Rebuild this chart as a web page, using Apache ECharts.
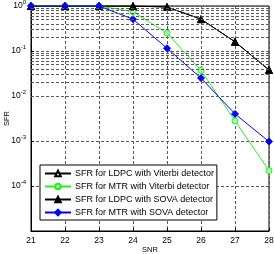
<!DOCTYPE html>
<html>
<head>
<meta charset="utf-8">
<script src="https://cdn.jsdelivr.net/npm/echarts@6/dist/echarts.min.js"></script>
<style>
  html, body { margin: 0; padding: 0; background: #fff; }
  #chart { width: 274px; height: 254px; }
</style>
</head>
<body>
<div id="chart"></div>
<script>
// SNR values on the x axis
const snr = [21, 22, 23, 24, 25, 26, 27, 28]

// sector failure rate
const ldpcViterbi = [1, 1, 1, 1, 0.95, 0.51, 0.16, 0.038]
const mtrViterbi = [1, 1, 1, 0.75, 0.25, 0.037, 0.0028, 0.00022]
const ldpcSova = [1, 1, 1, 1, 0.95, 0.51, 0.16, 0.038]
const mtrSova = [1, 1, 1, 0.51, 0.115, 0.025, 0.004, 0.00097]

// minor grid lines (2..9 in every decade)
const minorGrid = []
for (let d = 1; d <= 5; d++) {
  for (let k = 2; k <= 9; k++) minorGrid.push(k * Math.pow(10, -d))
}

const font = 'Liberation Sans, Arial, sans-serif'
const gridLine = { color: '#5a5a5a', width: 1, type: [3, 2] }

const chart = echarts.init(document.getElementById('chart'), null, { renderer: 'canvas' })

const pair = (ys) => snr.map((x, i) => [x, ys[i]])

const option = {
  animation: false,
  backgroundColor: '#fff',
  textStyle: { fontFamily: font },
  grid: {
    left: 31, right: 5, top: 6, bottom: 23,
    outerBoundsMode: 'none',
    containLabel: false,
    show: true, borderColor: '#000', borderWidth: 1, backgroundColor: 'transparent'
  },
  legend: {
    left: 40,
    top: 165,
    orient: 'vertical',
    backgroundColor: '#fff',
    borderColor: '#000',
    borderWidth: 1,
    borderRadius: 0,
    padding: [4, 3, 3, 4],
    itemWidth: 26,
    itemHeight: 7,
    itemGap: 4,
    textStyle: { fontSize: 9, color: '#000', fontFamily: font, padding: [0, 0, 0, -1] },
    data: [
      'SFR for LDPC with Viterbi detector',
      'SFR for MTR with Viterbi detector',
      'SFR for LDPC with SOVA detector',
      'SFR for MTR with SOVA detector'
    ]
  },
  xAxis: {
    type: 'value',
    min: 21,
    max: 28,
    interval: 1,
    name: 'SNR',
    nameLocation: 'middle',
    nameGap: 15,
    nameMoveOverlap: false,
    nameTextStyle: { fontSize: 7.5, color: '#000', verticalAlign: 'top' },
    axisLine: { show: true, onZero: false, lineStyle: { color: '#000', width: 1 } },
    axisTick: { show: true, inside: true, length: 3, lineStyle: { color: '#000' } },
    axisLabel: { fontSize: 8.5, color: '#000', margin: 5 },
    splitLine: { show: true, lineStyle: gridLine }
  },
  yAxis: {
    type: 'log',
    logBase: 10,
    min: 1e-5,
    max: 1,
    name: 'SFR',
    nameLocation: 'middle',
    nameGap: 20,
    nameMoveOverlap: false,
    nameTextStyle: { fontSize: 7.5, color: '#000' },
    axisLine: { show: true, lineStyle: { color: '#000', width: 1 } },
    axisTick: { show: true, inside: true, length: 3, lineStyle: { color: '#000' } },
    axisLabel: {
      showMinLabel: false,
      margin: 5,
      formatter: (v) => '{b|10}{s|' + Math.round(Math.log10(v)) + '}',
      rich: {
        b: { fontSize: 8.5, color: '#000', fontFamily: font },
        s: { fontSize: 6, color: '#000', fontFamily: font, verticalAlign: 'top', padding: [0, 0, 7, 0] }
      }
    },
    splitLine: { show: true, lineStyle: gridLine }
  },
  series: [
    {
      name: 'minor-grid',
      type: 'line',
      data: [],
      silent: true,
      markLine: {
        silent: true,
        symbol: 'none',
        label: { show: false },
        lineStyle: gridLine,
        data: minorGrid.map(v => ({ yAxis: v }))
      }
    },
    {
      name: 'SFR for LDPC with Viterbi detector',
      type: 'line',
      data: pair(ldpcViterbi),
      symbol: 'triangle',
      symbolSize: 7,
      lineStyle: { color: '#000', width: 1 },
      itemStyle: { color: '#fff', borderColor: '#000', borderWidth: 1 }
    },
    {
      name: 'SFR for MTR with Viterbi detector',
      type: 'line',
      data: pair(mtrViterbi),
      symbol: 'circle',
      symbolSize: 6,
      lineStyle: { color: '#22ee22', width: 1 },
      itemStyle: { color: '#aaffaa', borderColor: '#22ee22', borderWidth: 1 }
    },
    {
      name: 'SFR for LDPC with SOVA detector',
      type: 'line',
      data: pair(ldpcSova),
      symbol: 'triangle',
      symbolSize: 7,
      lineStyle: { color: '#000', width: 1 },
      itemStyle: { color: '#000', borderColor: '#000', borderWidth: 1 }
    },
    {
      name: 'SFR for MTR with SOVA detector',
      type: 'line',
      data: pair(mtrSova),
      symbol: 'diamond',
      symbolSize: 7,
      lineStyle: { color: '#0000ff', width: 1 },
      itemStyle: { color: '#0000ff', borderColor: '#0000ff', borderWidth: 1 }
    }
  ]
}

chart.setOption(option)
</script>
</body>
</html>
